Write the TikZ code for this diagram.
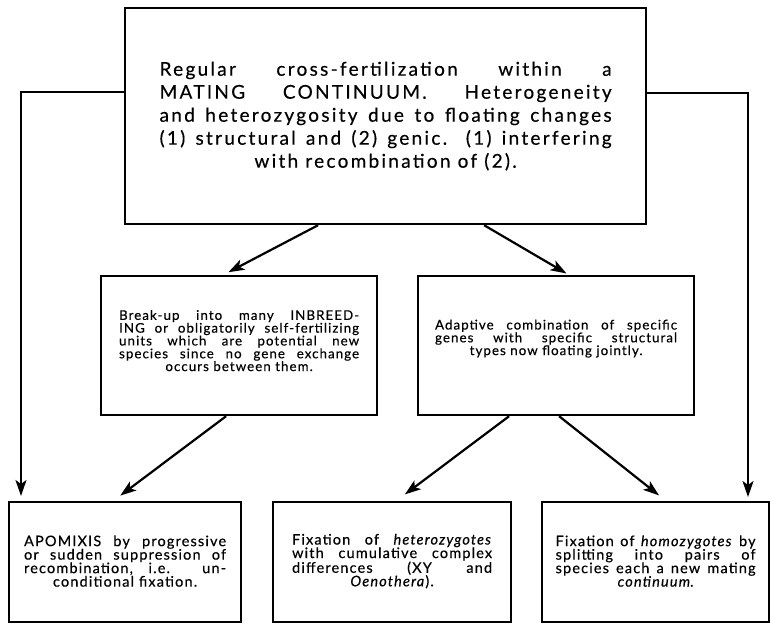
\documentclass[tikz,border=0pt]{standalone}
\usepackage{fontspec}
\setmainfont{Lato}
\newfontfamily\bigfont[LetterSpace=12,FakeBold=0.4]{Lato}
\newfontfamily\smallfont[LetterSpace=8,FakeBold=0.4]{Lato}
\usetikzlibrary{arrows.meta}
\begin{document}
\begin{tikzpicture}[x=1pt,y=-1pt,
  box/.style={draw, line width=2.2pt, inner sep=0pt, anchor=north west},
  bigtxt/.style={align=center, inner sep=0pt, font=\bigfont\fontsize{19}{23}\selectfont},
  midtxt/.style={align=center, inner sep=0pt, font=\smallfont\fontsize{13.3}{12.8}\selectfont},
  lowtxt/.style={align=center, inner sep=0pt, font=\smallfont\fontsize{14.5}{13.5}\selectfont},
  arr/.style={line width=2.2pt, -{Stealth[length=16pt,width=11pt,inset=4pt]}}]
\useasboundingbox (0,0) rectangle (770,623);
% boxes
\node[box, minimum width=521pt, minimum height=216pt] (top) at (124,7) {};
\node[box, minimum width=276pt, minimum height=139pt] (ml) at (100,275) {};
\node[box, minimum width=276pt, minimum height=139pt] (mr) at (417,275) {};
\node[box, minimum width=232pt, minimum height=120pt] (bl) at (8,501) {};
\node[box, minimum width=238pt, minimum height=120pt] (bm) at (272,501) {};
\node[box, minimum width=227pt, minimum height=120pt] (br) at (541,501) {};
% texts
\node[bigtxt] (toptxt) at ([yshift=0pt]top.center) {%
\makebox[452pt][s]{Regular cross-fertilization within a}\\
\makebox[452pt][s]{MATING CONTINUUM. Heterogeneity}\\
\makebox[452pt][s]{and heterozygosity due to floating changes}\\
\makebox[452pt][s]{(1) structural and (2) genic. (1) interfering}\\
with recombination of (2).};
\node[midtxt] (mltxt) at ([yshift=5pt]ml.center) {%
\makebox[240pt][s]{Break-up into many INBREED-}\\
\makebox[240pt][s]{ING or obligatorily self-fertilizing}\\
\makebox[240pt][s]{units which are potential new}\\
\makebox[240pt][s]{species since no gene exchange}\\
occurs between them.};
\node[midtxt] (mrtxt) at ([yshift=7pt]mr.center) {%
\makebox[242pt][s]{Adaptive combination of specific}\\
\makebox[242pt][s]{genes with specific structural}\\
types now floating jointly.};
\node[lowtxt] (bltxt) at ([yshift=1pt]bl.center) {%
\makebox[202pt][s]{APOMIXIS by progressive}\\
\makebox[202pt][s]{or sudden suppression of}\\
\makebox[202pt][s]{recombination, i.e. un-}\\
conditional fixation.};
\node[lowtxt] (bmtxt) at ([yshift=1pt]bm.center) {%
\makebox[200pt][s]{Fixation of \textit{heterozygotes}}\\
\makebox[200pt][s]{with cumulative complex}\\
\makebox[200pt][s]{differences (XY and}\\
\textit{Oenothera}).};
\node[lowtxt] (brtxt) at ([yshift=1pt]br.center) {%
\makebox[200pt][s]{Fixation of \textit{homozygotes} by}\\
\makebox[200pt][s]{splitting into pairs of}\\
\makebox[200pt][s]{species each a new mating}\\
\textit{continuum}.};
% connectors
\draw[arr, shorten >=6pt] ([xshift=-67.5pt]top.south) -- ([xshift=-16pt]ml.north);
\draw[arr, shorten >=3pt] ([xshift=98.5pt]top.south) -- ([xshift=13pt]mr.north);
\draw[arr, shorten >=9pt] ([xshift=-13pt]ml.south) -- ([xshift=-12pt]bl.north);
\draw[arr, shorten >=11pt] ([xshift=-47pt]mr.south) -- ([xshift=4pt]bm.north);
\draw[arr, shorten >=9pt] ([xshift=3pt]mr.south) -- ([xshift=10.5pt]br.north);
\coordinate (kl) at (21,92);
\coordinate (kr) at (748,93);
\draw[arr, shorten >=5pt] (top.west |- kl) -- (kl) -- (kl |- bl.north);
\draw[arr, shorten >=4pt] (top.east |- kr) -- (kr) -- (kr |- br.north);
\end{tikzpicture}
\end{document}
